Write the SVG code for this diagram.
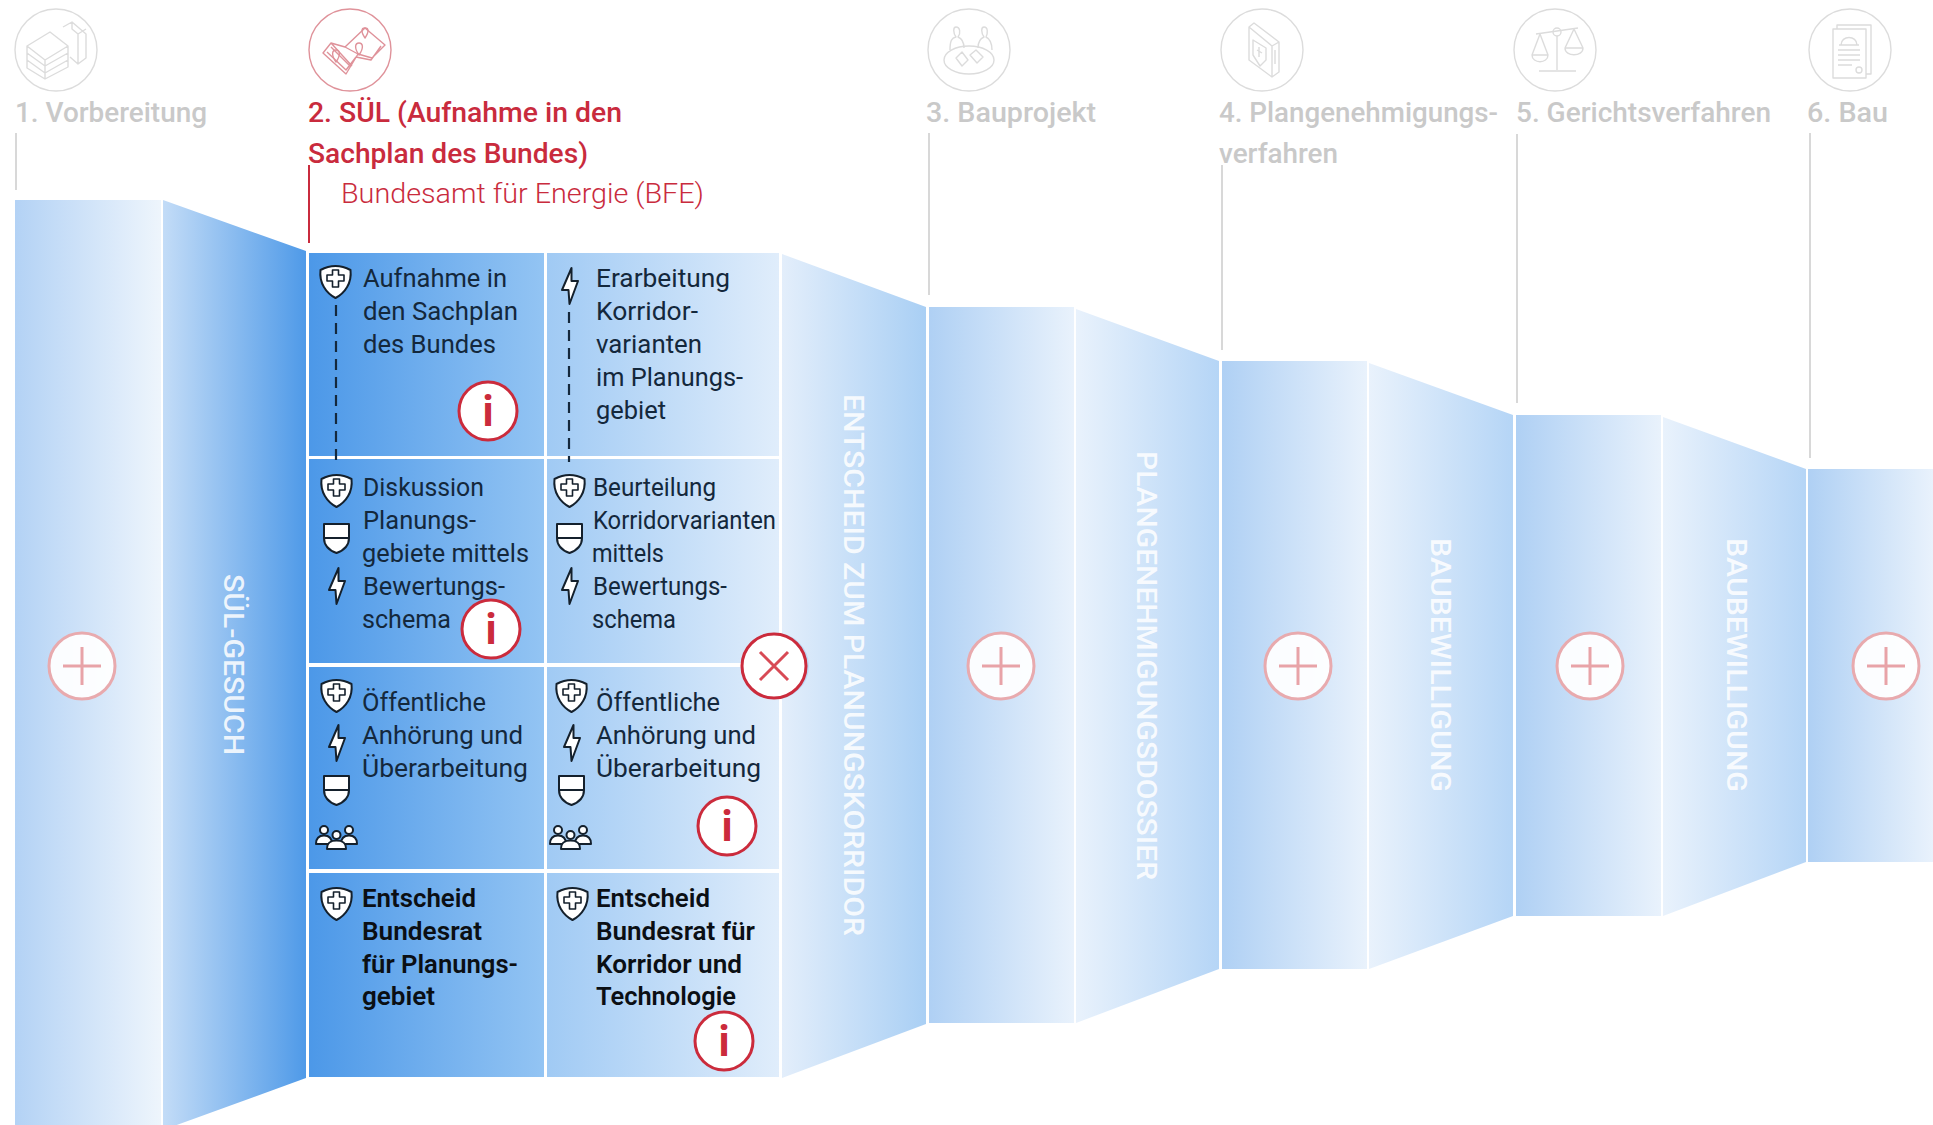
<svg xmlns="http://www.w3.org/2000/svg" xmlns:xlink="http://www.w3.org/1999/xlink" width="1933" height="1125" viewBox="0 0 1933 1125">
<style>
text{font-family:Roboto,"Liberation Sans",sans-serif}
.h{font-size:28px;font-weight:500;fill:#c9c9c9}
.hr{font-size:28px;font-weight:500;fill:#c92b3d}
.sub{font-size:28px;font-weight:300;fill:#c92b3d}
.t{font-size:26.500px;font-weight:400;fill:#14283c}
.b{font-size:26.500px;font-weight:600;fill:#0b0f14}
.v{font-size:28px;font-weight:500;fill:#fff;fill-opacity:.85}
.i{font-size:42px;font-weight:700;fill:#cb2b3c;text-anchor:middle}
.ic{fill:#fff;stroke:#14202c;stroke-width:2;stroke-linejoin:round}
.g{fill:none;stroke:#dcdcdc;stroke-width:1.4;stroke-linejoin:round}
.r{fill:none;stroke:#df929a;stroke-width:1.4;stroke-linejoin:round}
.gl{stroke:#cfcfcf;stroke-width:1.6;fill:none}
.dash{stroke:#14283c;stroke-width:2.2;stroke-dasharray:11 7;fill:none}
.circ{fill:#fff;stroke:#cb2b3c;stroke-width:3}
.plusc{fill:#fff;fill-opacity:.93;stroke:#e8aaae;stroke-width:3}
.pl{stroke:#e8a3a8;stroke-width:3;fill:none}
</style>
<defs>
<linearGradient id="a" x1="0" x2="1" y1="0" y2="0"><stop offset="0" stop-color="#b3d2f5"/><stop offset="1" stop-color="#eef5fc"/></linearGradient>
<linearGradient id="b" x1="0" x2="1" y1="0" y2="0"><stop offset="0" stop-color="#c3dcf7"/><stop offset="1" stop-color="#4f9ae8"/></linearGradient>
<linearGradient id="c1" x1="0" x2="1" y1="0" y2="0"><stop offset="0" stop-color="#4c98e8"/><stop offset="1" stop-color="#93c4f3"/></linearGradient>
<linearGradient id="c2" x1="0" x2="1" y1="0" y2="0"><stop offset="0" stop-color="#a0caf4"/><stop offset="1" stop-color="#e0edfb"/></linearGradient>
<linearGradient id="d" x1="0" x2="1" y1="0" y2="0"><stop offset="0" stop-color="#e3eefb"/><stop offset="1" stop-color="#a9cff4"/></linearGradient>
<linearGradient id="e" x1="0" x2="1" y1="0" y2="0"><stop offset="0" stop-color="#afd0f4"/><stop offset="1" stop-color="#e9f2fc"/></linearGradient>
<linearGradient id="f" x1="0" x2="1" y1="0" y2="0"><stop offset="0" stop-color="#e9f2fc"/><stop offset="1" stop-color="#b5d5f6"/></linearGradient>
<symbol id="shield" width="33" height="35" viewBox="0 0 33 35" overflow="visible"><path class="ic" d="M1.500 6Q16.500-2 31.500 6C33 19 26 29 16.500 34C7 29 0 19 1.500 6Z"/><path class="ic" style="stroke-width:1.6" d="M13.500 6H19.500V11H25V17H19.500V23H13.500V17H8V11H13.500Z"/></symbol>
<symbol id="canton" width="27" height="31" viewBox="0 0 27 31" overflow="visible"><path class="ic" d="M1 1H26V15C26 24 19 28 13.500 30C8 28 1 24 1 15Z"/><path class="ic" d="M1 15H26"/></symbol>
<symbol id="bolt" width="18" height="38" viewBox="0 0 18 38" overflow="visible"><path class="ic" d="M10.500 1L1 23H7.500L8.500 37L17 14H10.500Z"/></symbol>
<symbol id="people" width="43" height="25" viewBox="0 0 43 25" overflow="visible"><g class="ic"><circle cx="9" cy="5" r="4"/><path d="M1 19C1 12 5 10.500 9 10.500C13 10.500 17 12 17 19Z"/><circle cx="34" cy="5" r="4"/><path d="M26 19C26 12 30 10.500 34 10.500C38 10.500 42 12 42 19Z"/><circle cx="21.500" cy="10" r="4"/><path d="M12 24C12 17 16 15.500 21.500 15.500C27 15.500 31 17 31 24Z"/></g></symbol>
</defs>

<g id="bands">
<rect x="15" y="200" width="146" height="925" fill="url(#a)"/>
<polygon points="163,200 306,251 306,1078 163,1130" fill="url(#b)"/>
<polygon points="782,254 926,307 926,1024 782,1078" fill="url(#d)"/>
<rect x="929" y="307" width="145" height="716" fill="url(#e)"/>
<polygon points="1076,309 1219,361 1219,969 1076,1023" fill="url(#f)"/>
<rect x="1222" y="361" width="145" height="608" fill="url(#e)"/>
<polygon points="1369,363 1513,415 1513,916 1369,969" fill="url(#f)"/>
<rect x="1516" y="415" width="145" height="501" fill="url(#e)"/>
<polygon points="1663,417 1806,469 1806,862 1663,916" fill="url(#f)"/>
<rect x="1808" y="469" width="125" height="393" fill="url(#e)"/>
</g>

<g id="band-labels">
<text class="v" transform="translate(224,574) rotate(90)" textLength="181" lengthAdjust="spacingAndGlyphs">SÜL-GESUCH</text>
<text class="v" transform="translate(844,394) rotate(90)" textLength="542" lengthAdjust="spacingAndGlyphs">ENTSCHEID ZUM PLANUNGSKORRIDOR</text>
<text class="v" transform="translate(1137,451) rotate(90)" textLength="429" lengthAdjust="spacingAndGlyphs">PLANGENEHMIGUNGSDOSSIER</text>
<text class="v" transform="translate(1431,538) rotate(90)" textLength="254" lengthAdjust="spacingAndGlyphs">BAUBEWILLIGUNG</text>
<text class="v" transform="translate(1727,538) rotate(90)" textLength="254" lengthAdjust="spacingAndGlyphs">BAUBEWILLIGUNG</text>
</g>

<g id="connectors">
<path class="gl" d="M16 133V190M929 133V295M1222 165V350M1517 134V403M1810 133V458"/>
<path d="M309 165V243" stroke="#c92b3d" stroke-width="2" fill="none"/>
</g>

<g id="step-1">
<circle cx="56" cy="50" r="41" class="g"/>
<path class="g" d="M27 46L50 32L68 46L45 60ZM27 46V68L45 79L68 67V46M27 53L45 66L68 53M27 60L45 73L68 60M45 60V79M63 27L72 22L86 34V58L78 64L70 57M72 22V29L78 34V64M78 34L86 29"/>
<text class="h" x="15" y="122" textLength="192" lengthAdjust="spacingAndGlyphs">1. Vorbereitung</text>
</g>
<g id="step-2">
<circle cx="350" cy="50" r="41" class="r"/>
<path class="r" d="M323 53L331 43L345 47L365 28L385 45L372 58L358 54L346 74ZM331 43L352 66M345 47L358 54M327 52L346 70L356 57L371 60L381 46M331 47L350 66"/>
<path class="r" d="M336 62C331 55 332 50 336 50C340 50 341 55 336 62ZM359 55C354 48 355 43 359 43C363 43 364 48 359 55ZM365 38C361 32 361 28 365 28C369 28 369 32 365 38Z"/>
<text class="hr" x="308" y="122" textLength="314" lengthAdjust="spacingAndGlyphs">2. SÜL (Aufnahme in den</text>
<text class="hr" x="308" y="163" textLength="280" lengthAdjust="spacingAndGlyphs">Sachplan des Bundes)</text>
<text class="sub" x="341" y="203" textLength="363" lengthAdjust="spacingAndGlyphs">Bundesamt für Energie (BFE)</text>
</g>
<g id="step-3">
<circle cx="969" cy="50" r="41" class="g"/>
<path class="g" d="M950 50C950 40 952 38 956 37C953 33 953 27 956 27C960 27 961 33 958 37C963 39 964 44 964 48M978 48C978 43 979 39 984 37C981 33 981 27 984 27C988 27 988 33 986 37C990 39 992 42 992 50"/>
<ellipse class="g" cx="969" cy="60" rx="25" ry="14"/>
<path class="g" d="M956 58L962 52L968 60L962 66ZM970 55L976 50L983 57L977 63Z"/>
<text class="h" x="926" y="122" textLength="170" lengthAdjust="spacingAndGlyphs">3. Bauprojekt</text>
</g>
<g id="step-4">
<circle cx="1262" cy="50" r="41" class="g"/>
<path class="g" d="M1249 27L1254 23L1279 42V72L1272 77L1249 60ZM1249 27L1272 46V77M1272 46L1279 42"/>
<path class="g" d="M1253 40L1266 48V60L1260 66L1253 55ZM1257 50L1262 53M1259 47V57M1275 50V64"/>
<text class="h" x="1219" y="122" textLength="279" lengthAdjust="spacingAndGlyphs">4. Plangenehmigungs-</text>
<text class="h" x="1219" y="163" textLength="119" lengthAdjust="spacingAndGlyphs">verfahren</text>
</g>
<g id="step-5">
<circle cx="1555" cy="50" r="41" class="g"/>
<path class="g" d="M1557 36V70M1539 71H1576M1536 34L1578 28"/>
<circle class="g" cx="1557" cy="32" r="4"/>
<path class="g" d="M1540 34L1532 55H1548ZM1532 55C1532 64 1548 64 1548 55M1574 29L1565 48H1583ZM1565 48C1565 57 1583 57 1583 48"/>
<text class="h" x="1516" y="122" textLength="255" lengthAdjust="spacingAndGlyphs">5. Gerichtsverfahren</text>
</g>
<g id="step-6">
<circle cx="1850" cy="50" r="41" class="g"/>
<path class="g" d="M1833 29H1866V78H1833ZM1837 29V25H1871V74H1866"/>
<path class="g" d="M1838 50H1860M1838 55H1860M1838 60H1860M1838 65H1852M1841 45C1841 35 1857 35 1857 45ZM1839 45H1859"/>
<circle class="g" cx="1859" cy="70" r="3"/>
<text class="h" x="1807" y="122" textLength="81" lengthAdjust="spacingAndGlyphs">6. Bau</text>
</g>

<g id="cell-1-1">
<rect x="309" y="253" width="235" height="203" fill="url(#c1)"/>
<use href="#shield" x="319" y="264"/>
<text class="t" x="363" y="287" textLength="144" lengthAdjust="spacingAndGlyphs">Aufnahme in</text>
<text class="t" x="363" y="320" textLength="155" lengthAdjust="spacingAndGlyphs">den Sachplan</text>
<text class="t" x="363" y="353" textLength="133" lengthAdjust="spacingAndGlyphs">des Bundes</text>
</g>
<g id="cell-1-2">
<rect x="547" y="253" width="232" height="203" fill="url(#c2)"/>
<use href="#bolt" x="561" y="267"/>
<text class="t" x="596" y="287" textLength="134" lengthAdjust="spacingAndGlyphs">Erarbeitung</text>
<text class="t" x="596" y="320" textLength="102" lengthAdjust="spacingAndGlyphs">Korridor-</text>
<text class="t" x="596" y="353" textLength="106" lengthAdjust="spacingAndGlyphs">varianten</text>
<text class="t" x="596" y="386" textLength="147" lengthAdjust="spacingAndGlyphs">im Planungs-</text>
<text class="t" x="596" y="419" textLength="70" lengthAdjust="spacingAndGlyphs">gebiet</text>
</g>
<g id="cell-2-1">
<rect x="309" y="459" width="235" height="204" fill="url(#c1)"/>
<text class="t" x="363" y="496" textLength="121" lengthAdjust="spacingAndGlyphs">Diskussion</text>
<text class="t" x="363" y="529" textLength="113" lengthAdjust="spacingAndGlyphs">Planungs-</text>
<text class="t" x="362" y="562" textLength="167" lengthAdjust="spacingAndGlyphs">gebiete mittels</text>
<text class="t" x="363" y="595" textLength="142" lengthAdjust="spacingAndGlyphs">Bewertungs-</text>
<text class="t" x="362" y="628" textLength="89" lengthAdjust="spacingAndGlyphs">schema</text>
</g>
<g id="cell-2-2">
<rect x="547" y="459" width="232" height="204" fill="url(#c2)"/>
<text class="t" x="593" y="496" textLength="123" lengthAdjust="spacingAndGlyphs">Beurteilung</text>
<text class="t" x="593" y="529" textLength="183" lengthAdjust="spacingAndGlyphs">Korridorvarianten</text>
<text class="t" x="592" y="562" textLength="72" lengthAdjust="spacingAndGlyphs">mittels</text>
<text class="t" x="593" y="595" textLength="134" lengthAdjust="spacingAndGlyphs">Bewertungs-</text>
<text class="t" x="592" y="628" textLength="84" lengthAdjust="spacingAndGlyphs">schema</text>
</g>
<g id="cell-3-1">
<rect x="309" y="667" width="235" height="202" fill="url(#c1)"/>
<text class="t" x="362" y="711" textLength="124" lengthAdjust="spacingAndGlyphs">Öffentliche</text>
<text class="t" x="362" y="744" textLength="161" lengthAdjust="spacingAndGlyphs">Anhörung und</text>
<text class="t" x="362" y="777" textLength="166" lengthAdjust="spacingAndGlyphs">Überarbeitung</text>
</g>
<g id="cell-3-2">
<rect x="547" y="667" width="232" height="202" fill="url(#c2)"/>
<text class="t" x="596" y="711" textLength="124" lengthAdjust="spacingAndGlyphs">Öffentliche</text>
<text class="t" x="596" y="744" textLength="160" lengthAdjust="spacingAndGlyphs">Anhörung und</text>
<text class="t" x="596" y="777" textLength="165" lengthAdjust="spacingAndGlyphs">Überarbeitung</text>
</g>
<g id="cell-4-1">
<rect x="309" y="873" width="235" height="204" fill="url(#c1)"/>
<use href="#shield" x="320" y="886"/>
<text class="b" x="362" y="907" textLength="114" lengthAdjust="spacingAndGlyphs">Entscheid</text>
<text class="b" x="362" y="940" textLength="120" lengthAdjust="spacingAndGlyphs">Bundesrat</text>
<text class="b" x="362" y="973" textLength="156" lengthAdjust="spacingAndGlyphs">für Planungs-</text>
<text class="b" x="362" y="1005" textLength="73" lengthAdjust="spacingAndGlyphs">gebiet</text>
</g>
<g id="cell-4-2">
<rect x="547" y="873" width="232" height="204" fill="url(#c2)"/>
<use href="#shield" x="556" y="886"/>
<text class="b" x="596" y="907" textLength="114" lengthAdjust="spacingAndGlyphs">Entscheid</text>
<text class="b" x="596" y="940" textLength="159" lengthAdjust="spacingAndGlyphs">Bundesrat für</text>
<text class="b" x="596" y="973" textLength="146" lengthAdjust="spacingAndGlyphs">Korridor und</text>
<text class="b" x="596" y="1005" textLength="140" lengthAdjust="spacingAndGlyphs">Technologie</text>
</g>

<g id="dashed-links">
<path class="dash" d="M336 305V465M569 312V462"/>
</g>

<g id="cell-icons">
<use href="#shield" x="320" y="473"/>
<use href="#canton" x="323" y="523"/>
<use href="#bolt" x="328" y="567"/>
<use href="#shield" x="553" y="473"/>
<use href="#canton" x="556" y="523"/>
<use href="#bolt" x="561" y="567"/>
<use href="#shield" x="320" y="678"/>
<use href="#bolt" x="328" y="724"/>
<use href="#canton" x="323" y="775"/>
<use href="#people" x="315" y="825"/>
<use href="#shield" x="555" y="678"/>
<use href="#bolt" x="563" y="724"/>
<use href="#canton" x="558" y="775"/>
<use href="#people" x="549" y="825"/>
</g>

<g id="info-1"><circle class="circ" cx="488" cy="411" r="29"/><text class="i" x="488" y="426">i</text></g>
<g id="info-2"><circle class="circ" cx="491" cy="629" r="29"/><text class="i" x="491" y="644">i</text></g>
<g id="info-3"><circle class="circ" cx="727" cy="826" r="29"/><text class="i" x="727" y="841">i</text></g>
<g id="info-4"><circle class="circ" cx="724" cy="1041" r="29"/><text class="i" x="724" y="1056">i</text></g>

<g id="close">
<circle cx="776" cy="666" r="33" fill="#bcd9f6"/>
<circle class="circ" cx="774" cy="666" r="32"/>
<path d="M760 652L788 680M788 652L760 680" stroke="#d84a55" stroke-width="3" fill="none"/>
</g>

<g id="plus-1"><circle class="plusc" cx="82" cy="666" r="33"/><path class="pl" d="M63 666H101M82 647V685"/></g>
<g id="plus-2"><circle class="plusc" cx="1001" cy="666" r="33"/><path class="pl" d="M982 666H1020M1001 647V685"/></g>
<g id="plus-3"><circle class="plusc" cx="1298" cy="666" r="33"/><path class="pl" d="M1279 666H1317M1298 647V685"/></g>
<g id="plus-4"><circle class="plusc" cx="1590" cy="666" r="33"/><path class="pl" d="M1571 666H1609M1590 647V685"/></g>
<g id="plus-5"><circle class="plusc" cx="1886" cy="666" r="33"/><path class="pl" d="M1867 666H1905M1886 647V685"/></g>
</svg>
